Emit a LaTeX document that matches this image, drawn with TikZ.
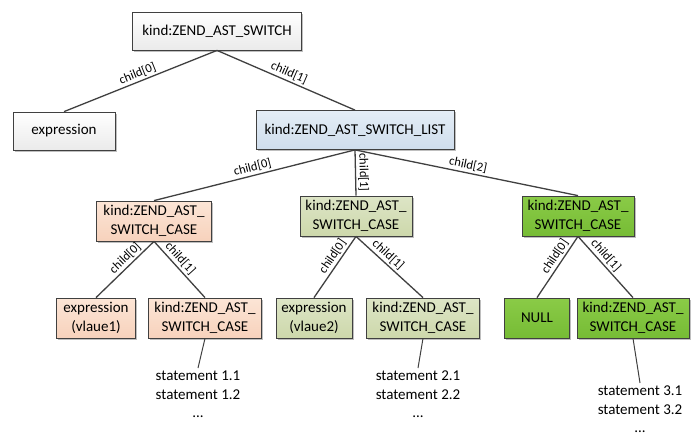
\documentclass[tikz,border=0pt]{standalone}
\usepackage{fontspec}
\setmainfont{Carlito}
\usetikzlibrary{shadows}
\definecolor{lineGray}{HTML}{404040}
\definecolor{blueTop}{HTML}{E4EDF6}
\definecolor{blueBot}{HTML}{CFDDEC}
\definecolor{peachTop}{HTML}{FCE5D6}
\definecolor{peachBot}{HTML}{F7D2BC}
\definecolor{oliveTop}{HTML}{DDE5C6}
\definecolor{oliveBot}{HTML}{CDD8AB}
\definecolor{greenTop}{HTML}{8ACB47}
\definecolor{greenBot}{HTML}{76BC35}
\tikzset{
  astbox/.style={draw=lineGray, line width=0.8pt, inner sep=0pt, align=center,
    font=\fontsize{15}{19}\selectfont,
    drop shadow={shadow xshift=1.5pt, shadow yshift=-1.5pt, opacity=0.25, fill=black}},
  whitebox/.style={astbox, top color=white, bottom color=black!8},
  bluebox/.style={astbox, top color=blueTop, bottom color=blueBot},
  peachbox/.style={astbox, top color=peachTop, bottom color=peachBot},
  olivebox/.style={astbox, top color=oliveTop, bottom color=oliveBot},
  greenbox/.style={astbox, top color=greenTop, bottom color=greenBot},
  edge/.style={draw=lineGray, line width=1.3pt},
  childlbl/.style={sloped, above, inner sep=2pt, font=\fontsize{12.5}{12.5}\selectfont},
  stmts/.style={anchor=north, inner sep=3pt, align=center, font=\fontsize{15}{18.5}\selectfont}
}
\begin{document}
\begin{tikzpicture}[x=1pt, y=-1pt]
  \useasboundingbox (0,0) rectangle (700,437);
  % Root level
  \node[whitebox, minimum width=169pt, minimum height=38pt] (sw) at (217,31) {kind:ZEND\_AST\_SWITCH};
  % First level
  \node[whitebox, minimum width=102pt, minimum height=38pt] (expr) at (64,131) {expression};
  \node[bluebox, minimum width=198pt, minimum height=39pt] (list) at (355,130) {kind:ZEND\_AST\_SWITCH\_LIST};
  % Second level
  \node[peachbox, minimum width=115pt, minimum height=40pt] (caseA) at (154,221) {kind:ZEND\_AST\_\\SWITCH\_CASE};
  \node[olivebox, minimum width=112pt, minimum height=40pt] (caseB) at (356,216) {kind:ZEND\_AST\_\\SWITCH\_CASE};
  \node[greenbox, minimum width=112pt, minimum height=40pt] (caseC) at (578,216) {kind:ZEND\_AST\_\\SWITCH\_CASE};
  % Third level
  \node[peachbox, minimum width=79pt, minimum height=40pt] (valA) at (96,318) {expression\\(vlaue1)};
  \node[peachbox, minimum width=113pt, minimum height=40pt] (nextA) at (205,318) {kind:ZEND\_AST\_\\SWITCH\_CASE};
  \node[olivebox, minimum width=76pt, minimum height=40pt] (valB) at (314,318) {expression\\(vlaue2)};
  \node[olivebox, minimum width=113pt, minimum height=40pt] (nextB) at (423,318) {kind:ZEND\_AST\_\\SWITCH\_CASE};
  \node[greenbox, minimum width=65pt, minimum height=40pt] (valC) at (537,318) {NULL};
  \node[greenbox, minimum width=112pt, minimum height=40pt] (nextC) at (633,318) {kind:ZEND\_AST\_\\SWITCH\_CASE};
  % Statements
  \node[stmts] (stA) at (198,368) {statement 1.1\\statement 1.2\\...};
  \node[stmts] (stB) at (418,368) {statement 2.1\\statement 2.2\\...};
  \node[stmts] (stC) at (640,383) {statement 3.1\\statement 3.2\\...};
  % Edges
  \draw[edge] (sw.south) -- node[childlbl, pos=.5] {child[0]} (expr.north);
  \draw[edge] (sw.south) -- node[childlbl, pos=.5] {child[1]} (list.north);
  \draw[edge] (list.south) -- node[childlbl, pos=.5] {child[0]} (caseA.north);
  \draw[edge] (list.south) -- node[childlbl, pos=.5] {child[1]} (caseB.north);
  \draw[edge] (list.south) -- node[childlbl, pos=.5] {child[2]} (caseC.north);
  \draw[edge] (caseA.south) -- node[childlbl, pos=.4] {child[0]} (valA.north);
  \draw[edge] (caseA.south) -- node[childlbl, pos=.4] {child[1]} (nextA.north);
  \draw[edge] (caseB.south) -- node[childlbl, pos=.4] {child[0]} (valB.north);
  \draw[edge] (caseB.south) -- node[childlbl, pos=.4] {child[1]} (nextB.north);
  \draw[edge] (caseC.south) -- node[childlbl, pos=.4] {child[0]} (valC.north);
  \draw[edge] (caseC.south) -- node[childlbl, pos=.4] {child[1]} (nextC.north);
  \draw[edge, line width=1pt] (nextA.south) -- (stA.north);
  \draw[edge, line width=1pt] (nextB.south) -- (stB.north);
  \draw[edge, line width=1pt] (nextC.south) -- (stC.north);
\end{tikzpicture}
\end{document}
